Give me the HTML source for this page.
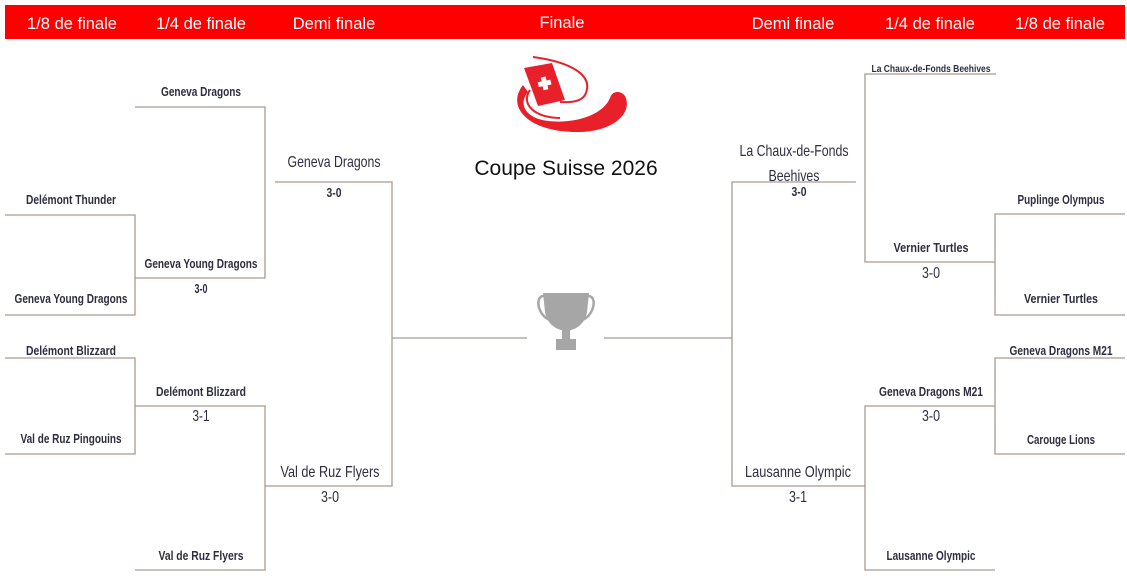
<!DOCTYPE html>
<html><head><meta charset="utf-8"><style>
body{margin:0;background:#fff;}
svg{display:block}
.h{font-family:"Liberation Sans",sans-serif;font-size:16.5px;fill:#fff}
.t{font-family:"Liberation Sans",sans-serif;font-size:13px;fill:#2e2e40;text-anchor:middle;font-weight:bold}
.b{font-size:16px;font-weight:normal}
.s{font-size:10.5px}
</style></head><body>
<svg width="1127" height="580" viewBox="0 0 1127 580">
<rect x="5" y="5" width="1120" height="34" fill="#ff0000"/>
<text class="h" x="72" y="29" text-anchor="middle">1/8 de finale</text>
<text class="h" x="201" y="29" text-anchor="middle">1/4 de finale</text>
<text class="h" x="334" y="29" text-anchor="middle">Demi finale</text>
<text class="h" x="562" y="28" text-anchor="middle">Finale</text>
<text class="h" x="793" y="29" text-anchor="middle">Demi finale</text>
<text class="h" x="930" y="29" text-anchor="middle">1/4 de finale</text>
<text class="h" x="1060" y="29" text-anchor="middle">1/8 de finale</text>

<g stroke="#ab9b92" stroke-width="1.3" fill="none">
<polyline points="5,215 135,215 135,315 5,315"/>
<polyline points="5,358 135,358 135,454 5,454"/>
<polyline points="135,107 265,107 265,278 135,278"/>
<polyline points="135,406 265,406 265,570 135,570"/>
<polyline points="275,182 392,182 392,486 265,486"/>
<line x1="392" y1="338" x2="527" y2="338"/>
<line x1="604" y1="338" x2="732" y2="338"/>
<polyline points="856,182 732,182 732,486 865,486"/>
<polyline points="996,74 865,74 865,262 995,262"/>
<polyline points="995,406 865,406 865,570 995,570"/>
<polyline points="1125,214 995,214 995,315 1125,315"/>
<polyline points="1125,358 995,358 995,454 1125,454"/>
</g>

<g>
<path d="M523,85 C505,108 530,133 580,132 C615,131 633,112 625,96 C620,90 612,91 610,98 C603,115 575,124 548,121 C525,118 518,104 528,92 Z" fill="#e8202a"/>
<path d="M530,90 C520,104 535,118 560,118" stroke="#e8202a" stroke-width="2" fill="none"/>
<path d="M524,68 L552,63 L565,100 L538,106 Z" fill="#e8202a"/>
<rect x="538" y="81" width="13" height="5" fill="#fff" transform="rotate(-12 544 83)"/>
<rect x="542" y="77" width="5" height="13" fill="#fff" transform="rotate(-12 544 83)"/>
<path d="M533,57 C570,62 595,75 585,95 C582,100 575,103 560,102" stroke="#e8202a" stroke-width="2" fill="none"/>
</g>
<text x="566" y="175" text-anchor="middle" style="font-family:'Liberation Sans',sans-serif;font-size:21px;fill:#111">Coupe Suisse 2026</text>

<g fill="#a6a6a6">
<path d="M543,293 L589,293 L587,312 C585,324 576,330 566,331 C556,330 547,324 545,312 Z"/>
<path d="M544,296 C534,296 538,316 550,320" stroke="#a6a6a6" stroke-width="2.5" fill="none"/>
<path d="M588,296 C598,296 594,316 582,320" stroke="#a6a6a6" stroke-width="2.5" fill="none"/>
<rect x="562" y="330" width="8" height="10"/>
<rect x="556" y="339" width="20" height="11"/>
</g>

<g>
<text class="t" x="201" y="96" textLength="80" lengthAdjust="spacingAndGlyphs">Geneva Dragons</text>
<text class="t" x="71" y="204" textLength="90" lengthAdjust="spacingAndGlyphs">Delémont Thunder</text>
<text class="t" x="201" y="268" textLength="113" lengthAdjust="spacingAndGlyphs">Geneva Young Dragons</text>
<text class="t" x="201" y="293" textLength="13" lengthAdjust="spacingAndGlyphs">3-0</text>
<text class="t" x="71" y="303" textLength="113" lengthAdjust="spacingAndGlyphs">Geneva Young Dragons</text>
<text class="t" x="71" y="355" textLength="90" lengthAdjust="spacingAndGlyphs">Delémont Blizzard</text>
<text class="t" x="201" y="396" textLength="90" lengthAdjust="spacingAndGlyphs">Delémont Blizzard</text>
<text class="t b" x="201" y="421" textLength="17" lengthAdjust="spacingAndGlyphs">3-1</text>
<text class="t" x="71" y="443" textLength="101" lengthAdjust="spacingAndGlyphs">Val de Ruz Pingouins</text>
<text class="t" x="201" y="560" textLength="85" lengthAdjust="spacingAndGlyphs">Val de Ruz Flyers</text>
<text class="t b" x="334" y="167" textLength="93" lengthAdjust="spacingAndGlyphs">Geneva Dragons</text>
<text class="t" x="334" y="197" textLength="15" lengthAdjust="spacingAndGlyphs">3-0</text>
<text class="t b" x="330" y="477" textLength="99" lengthAdjust="spacingAndGlyphs">Val de Ruz Flyers</text>
<text class="t b" x="330" y="502" textLength="18" lengthAdjust="spacingAndGlyphs">3-0</text>
<text class="t b" x="794" y="156" textLength="109" lengthAdjust="spacingAndGlyphs">La Chaux-de-Fonds</text>
<text class="t b" x="794" y="181" textLength="51" lengthAdjust="spacingAndGlyphs">Beehives</text>
<text class="t" x="799" y="196" textLength="15" lengthAdjust="spacingAndGlyphs">3-0</text>
<text class="t b" x="798" y="477" textLength="106" lengthAdjust="spacingAndGlyphs">Lausanne Olympic</text>
<text class="t b" x="798" y="502" textLength="18" lengthAdjust="spacingAndGlyphs">3-1</text>
<text class="t s" x="931" y="72" textLength="119" lengthAdjust="spacingAndGlyphs">La Chaux-de-Fonds Beehives</text>
<text class="t" x="931" y="252" textLength="75" lengthAdjust="spacingAndGlyphs">Vernier Turtles</text>
<text class="t b" x="931" y="278" textLength="18" lengthAdjust="spacingAndGlyphs">3-0</text>
<text class="t" x="931" y="396" textLength="104" lengthAdjust="spacingAndGlyphs">Geneva Dragons M21</text>
<text class="t b" x="931" y="421" textLength="18" lengthAdjust="spacingAndGlyphs">3-0</text>
<text class="t" x="931" y="560" textLength="89" lengthAdjust="spacingAndGlyphs">Lausanne Olympic</text>
<text class="t" x="1061" y="204" textLength="87" lengthAdjust="spacingAndGlyphs">Puplinge Olympus</text>
<text class="t" x="1061" y="303" textLength="74" lengthAdjust="spacingAndGlyphs">Vernier Turtles</text>
<text class="t" x="1061" y="355" textLength="103" lengthAdjust="spacingAndGlyphs">Geneva Dragons M21</text>
<text class="t" x="1061" y="444" textLength="68" lengthAdjust="spacingAndGlyphs">Carouge Lions</text>
</g>
</svg>
</body></html>
